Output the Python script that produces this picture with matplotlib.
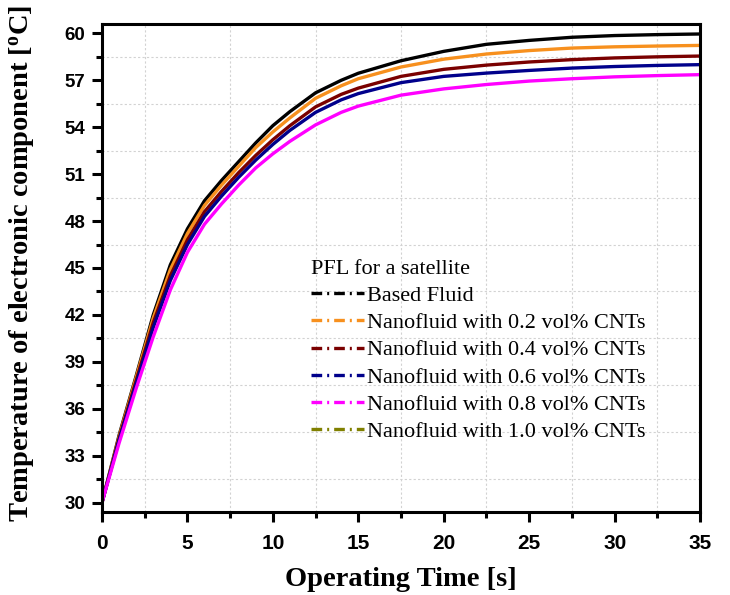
import matplotlib
matplotlib.use('Agg')
import matplotlib.pyplot as plt
from matplotlib.lines import Line2D
from matplotlib.ticker import MultipleLocator

# operating time [s] and temperature [degC]
time_s = [0, 1, 2, 3, 4, 5, 6, 7, 8, 9, 10, 11, 12.5, 14, 15, 17.5, 20, 22.5, 25, 27.5, 30, 32.5, 35]
based_fluid = [30, 34.3, 38.1, 42.0, 45.2, 47.5, 49.3, 50.6, 51.8, 53.0, 54.1, 55.0, 56.2, 57.0,
               57.45, 58.25, 58.85, 59.3, 59.55, 59.75, 59.86, 59.92, 59.96]
cnt_02 = [30, 34.2, 38.0, 41.8, 44.9, 47.2, 49.0, 50.3, 51.5, 52.7, 53.7, 54.6, 55.85, 56.65,
          57.1, 57.85, 58.35, 58.68, 58.9, 59.06, 59.14, 59.19, 59.23]
cnt_04 = [30, 34.1, 37.8, 41.5, 44.5, 46.8, 48.6, 49.9, 51.1, 52.2, 53.2, 54.1, 55.3, 56.1,
          56.5, 57.25, 57.7, 57.97, 58.17, 58.32, 58.43, 58.5, 58.55]
cnt_06 = [30, 34.0, 37.6, 41.2, 44.2, 46.5, 48.3, 49.6, 50.8, 51.9, 52.9, 53.8, 54.95, 55.75,
          56.15, 56.85, 57.25, 57.46, 57.63, 57.78, 57.88, 57.95, 58.0]
cnt_08 = [30, 33.8, 37.3, 40.6, 43.6, 46.0, 47.8, 49.1, 50.3, 51.4, 52.3, 53.1, 54.15, 54.95,
          55.35, 56.05, 56.45, 56.73, 56.95, 57.1, 57.22, 57.3, 57.36]

labels = ['Based Fluid', 'Nanofluid with 0.2 vol% CNTs', 'Nanofluid with 0.4 vol% CNTs',
          'Nanofluid with 0.6 vol% CNTs', 'Nanofluid with 0.8 vol% CNTs',
          'Nanofluid with 1.0 vol% CNTs']
colors = ['#000000', '#F7901E', '#7A0000', '#00008B', '#FF00FF', '#808000']
series = [based_fluid, cnt_02, cnt_04, cnt_06, cnt_08]

serif = ['Liberation Serif', 'DejaVu Serif']
sans = ['Liberation Sans', 'DejaVu Sans']

fig = plt.figure(figsize=(7.3, 5.95), dpi=100)
ax = fig.add_axes([0.1397, 0.1395, 0.8193, 0.8202])

for vals, c in zip(series, colors):
    ax.plot(time_s, vals, color=c, lw=2.4, solid_capstyle='butt')

ax.set_xlim(0, 35)
ax.set_ylim(29.4, 60.6)
ax.xaxis.set_major_locator(MultipleLocator(5))
ax.xaxis.set_minor_locator(MultipleLocator(2.5))
ax.yaxis.set_major_locator(MultipleLocator(3))
ax.yaxis.set_minor_locator(MultipleLocator(1.5))
ax.grid(which='minor', color='#d2d2d2', linestyle=(0, (2, 2)), lw=0.8)
ax.set_axisbelow(True)

for s in ax.spines.values():
    s.set_linewidth(2.2)
ax.tick_params(which='major', direction='out', length=7, width=2.2)
ax.tick_params(which='minor', direction='out', length=4, width=2.2)
ax.tick_params(axis='x', which='major', labelsize=15, pad=9)
ax.tick_params(axis='y', which='major', labelsize=13.5, pad=5)
for t in ax.get_xticklabels() + ax.get_yticklabels():
    t.set_family(sans)
    t.set_fontweight('bold')

ax.set_xlabel('Operating Time [s]', family=serif, fontweight='bold', fontsize=20.5)
ax.set_ylabel(r'Temperature of electronic component [$\mathregular{^{o}}$C]', family=serif,
              fontweight='bold', fontsize=20.5)
ax.xaxis.set_label_coords(0.5, -0.113)
ax.yaxis.set_label_coords(-0.108, 0.51)

handles = [Line2D([], [], color=c, lw=2.4, linestyle=(0, (3.2, 1.5, 0.6, 1.5))) for c in colors]
leg = ax.legend(handles, labels, title='PFL for a satellite', loc='upper left',
                bbox_to_anchor=(0.349, 0.517), frameon=False, handlelength=2.4,
                handletextpad=0.15, labelspacing=0.3, prop={'family': serif, 'size': 16},
                borderaxespad=0, borderpad=0)
leg.get_title().set_family(serif)
leg.get_title().set_fontsize(16)
leg._legend_box.align = 'left'

fig.savefig('out.png', dpi=100)
